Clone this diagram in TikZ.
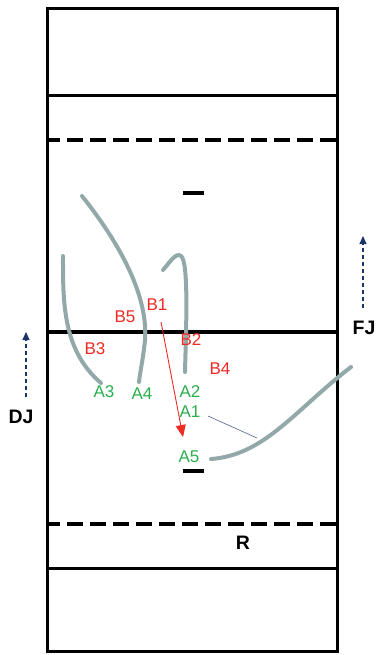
\documentclass[tikz,border=0pt]{standalone}
\usepackage{fontspec}
\setmainfont{Liberation Sans}
\usetikzlibrary{arrows.meta}
\definecolor{redlab}{HTML}{EE2A24}
\definecolor{greenlab}{HTML}{2BAE4E}
\definecolor{pathgrey}{HTML}{93A8A8}
\definecolor{navyarr}{HTML}{1F3466}
\begin{document}
\begin{tikzpicture}[x=1pt,y=-1pt,
  courtline/.style={line width=3pt,black},
  dashline/.style={line width=4pt,black,dash pattern=on 16pt off 7pt,dash phase=3pt},
  trail/.style={line width=4pt,pathgrey,line cap=round},
  lab/.style={inner sep=0pt,font=\fontsize{17}{18}\selectfont},
  redlabel/.style={lab,text=redlab},
  greenlabel/.style={lab,text=greenlab},
  blacklabel/.style={inner sep=0pt,font=\fontsize{19.5}{20}\selectfont\bfseries},
  judgearrow/.style={navyarr,line width=1.1pt,dash pattern=on 4pt off 3pt,-{Triangle[length=8pt,width=7pt]}},
]
\useasboundingbox (0,0) rectangle (376,655);
% court
\draw[courtline] (47,9) rectangle (337,651);
\draw[courtline] (47,96) -- (337,96);
\draw[courtline] (47,568) -- (337,568);
\draw[courtline,line width=3.5pt] (47,332) -- (337,332);
\draw[dashline] (47,140) -- (337,140);
\draw[dashline] (47,524) -- (337,524);
\draw[line width=3.5pt] (183,193) -- (204,193);
\draw[line width=3.5pt] (183,471) -- (204,471);
% trails
\draw[trail] (82,196) .. controls (125,250) and (148,300) .. (145,340) .. controls (143,360) and (140,372) .. (139,382);
\draw[trail] (63,256) .. controls (63,300) and (62,350) .. (101,383);
\draw[trail] (163,270) .. controls (170,262) and (176,252) .. (181,256) .. controls (189,262) and (186,330) .. (185,372);
\draw[trail] (211,459) .. controls (265,455) and (295,410) .. (351,367);
% labels
\node[redlabel] (B1) at (157,305) {B1};
\node[redlabel] (B5) at (125,317) {B5};
\node[redlabel] (B3) at (95,349) {B3};
\node[redlabel] (B2) at (191,340) {B2};
\node[redlabel] (B4) at (220,369) {B4};
\node[greenlabel] (A3) at (104,392) {A3};
\node[greenlabel] (A4) at (142,394) {A4};
\node[greenlabel] (A2) at (190,392) {A2};
\node[greenlabel] (A1) at (190,412) {A1};
\node[greenlabel] (A5) at (189,457) {A5};
\node[blacklabel] (R) at (243,543) {R};
\node[blacklabel] (DJ) at (21,417) {DJ};
\node[blacklabel] (FJ) at (364,328) {FJ};
% connectors
\coordinate (rs) at (161,322);
\coordinate (re) at (183,437);
\draw[redlab,line width=0.9pt,-{Triangle[length=12pt,width=10pt]}] (rs) -- (re);
\coordinate (bs) at (208,416);
\coordinate (be) at (257,438);
\draw[navyarr!80,line width=0.6pt] (bs) -- (be);
\coordinate (djs) at (26,397);
\coordinate (dje) at (26,332);
\draw[judgearrow] (djs) -- (dje);
\coordinate (fjs) at (363,308);
\coordinate (fje) at (363,236);
\draw[judgearrow] (fjs) -- (fje);
\end{tikzpicture}
\end{document}
